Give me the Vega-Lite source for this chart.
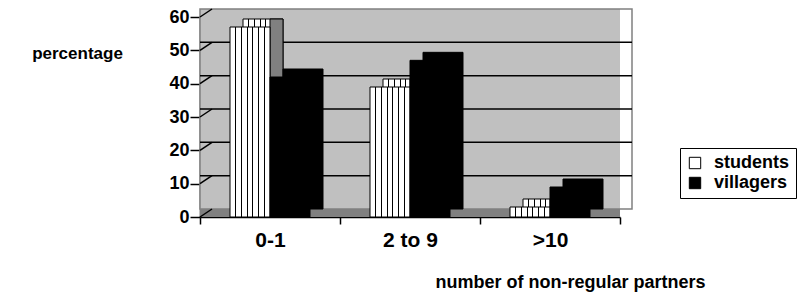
{
  "$schema": "https://vega.github.io/schema/vega-lite/v6.json",
  "width": 420,
  "height": 200,
  "autosize": "none",
  "padding": {"left": 200, "top": 17, "right": 189, "bottom": 82},
  "background": "white",
  "config": {
    "view": {"stroke": null},
    "font": "Liberation Sans",
    "axisY": {"domainColor": "black", "domainWidth": 1.5, "tickColor": "black", "tickWidth": 1.5, "tickSize": 10, "labelFontSize": 18, "labelFontWeight": "bold", "labelColor": "black", "labelPadding": 1, "grid": false, "titleAngle": 0, "titleX": -123, "titleY": 36, "titleFontSize": 17, "titleFontWeight": "bold", "titleAlign": "center", "titleBaseline": "middle", "titleColor": "black"},
    "axisX": {"domainColor": "black", "domainWidth": 1.5, "tickColor": "black", "tickWidth": 1.5, "tickSize": 7, "tickBand": "extent", "labelFontSize": 21, "labelFontWeight": "bold", "labelColor": "black", "labelPadding": 5, "labelAngle": 0, "grid": false, "titleFontSize": 18, "titleFontWeight": "bold", "titleColor": "black", "titleX": 370, "titleY": 70, "titleBaseline": "alphabetic", "titleAlign": "center"}
  },
  "data": {"values": [
    {"category": "0-1", "series": "students", "value": 57},
    {"category": "0-1", "series": "villagers", "value": 42},
    {"category": "2 to 9", "series": "students", "value": 39},
    {"category": "2 to 9", "series": "villagers", "value": 47},
    {"category": ">10", "series": "students", "value": 3},
    {"category": ">10", "series": "villagers", "value": 9}
  ]},
  "layer": [
    {
      "data": {"values": [{"value": 60, "v0": 0}]},
      "mark": {"type": "rect", "fill": "#c0c0c0", "yOffset": -8, "x2Offset": 12},
      "encoding": {
        "y": {"field": "value", "type": "quantitative", "scale": {"domain": [0, 60]}, "title": "percentage"},
        "y2": {"field": "v0"}
      }
    },
    {
      "data": {"values": [{"value": 60, "v0": 0}]},
      "mark": {"type": "rect", "fill": null, "stroke": "#808080", "strokeWidth": 1.5, "xOffset": 12, "x2Offset": 12, "yOffset": -8, "y2Offset": -8},
      "encoding": {
        "y": {"field": "value", "type": "quantitative"},
        "y2": {"field": "v0"}
      }
    },
    {
      "data": {"values": [{"value": 0, "v0": 0}]},
      "mark": {"type": "rect", "fill": "#808080", "y2Offset": -8, "x2Offset": 12},
      "encoding": {
        "y": {"field": "value", "type": "quantitative"},
        "y2": {"field": "v0"}
      }
    },
    {
      "data": {"values": [{"value": 10}, {"value": 20}, {"value": 30}, {"value": 40}, {"value": 50}]},
      "mark": {"type": "rule", "color": "black", "strokeWidth": 1.5, "xOffset": 12, "x2Offset": 12, "yOffset": -8},
      "encoding": {
        "y": {"field": "value", "type": "quantitative"}
      }
    },
    {
      "data": {"values": [{"value": 0}, {"value": 10}, {"value": 20}, {"value": 30}, {"value": 40}, {"value": 50}, {"value": 60}]},
      "mark": {"type": "rule", "color": "black", "strokeWidth": 1.5, "x2Offset": 12, "y2Offset": -8},
      "encoding": {
        "x": {"datum": "0-1", "bandPosition": 0, "type": "nominal"},
        "x2": {"datum": "0-1", "bandPosition": 0},
        "y": {"field": "value", "type": "quantitative"},
        "y2": {"field": "value"}
      }
    },
    {
      "transform": [{"filter": "datum.series === 'students'"}],
      "mark": {"type": "bar", "width": 40, "xOffset": -7, "yOffset": -8, "y2Offset": -8, "stroke": "black", "strokeWidth": 1,
        "fill": {"gradient": "linear", "x1": 0, "y1": 0, "x2": 1, "y2": 0, "stops": [
          {"offset": 0, "color": "#ffffff"},
          {"offset": 0.13, "color": "#ffffff"}, {"offset": 0.13, "color": "#000000"}, {"offset": 0.155, "color": "#000000"}, {"offset": 0.155, "color": "#ffffff"},
          {"offset": 0.273, "color": "#ffffff"}, {"offset": 0.273, "color": "#000000"}, {"offset": 0.298, "color": "#000000"}, {"offset": 0.298, "color": "#ffffff"},
          {"offset": 0.416, "color": "#ffffff"}, {"offset": 0.416, "color": "#000000"}, {"offset": 0.441, "color": "#000000"}, {"offset": 0.441, "color": "#ffffff"},
          {"offset": 0.559, "color": "#ffffff"}, {"offset": 0.559, "color": "#000000"}, {"offset": 0.584, "color": "#000000"}, {"offset": 0.584, "color": "#ffffff"},
          {"offset": 0.702, "color": "#ffffff"}, {"offset": 0.702, "color": "#000000"}, {"offset": 0.727, "color": "#000000"}, {"offset": 0.727, "color": "#ffffff"},
          {"offset": 0.845, "color": "#ffffff"}, {"offset": 0.845, "color": "#000000"}, {"offset": 0.870, "color": "#000000"}, {"offset": 0.870, "color": "#ffffff"},
          {"offset": 1, "color": "#ffffff"}]}},
      "encoding": {
        "x": {"field": "category", "type": "nominal", "scale": {"domain": ["0-1", "2 to 9", ">10"], "paddingInner": 0, "paddingOuter": 0}, "title": "number of non-regular partners"},
        "y": {"field": "value", "type": "quantitative"}
      }
    },
    {
      "transform": [{"filter": "datum.series === 'students'"}],
      "mark": {"type": "bar", "width": 13, "xOffset": 6.5, "yOffset": -8, "y2Offset": -4, "fill": "#808080", "stroke": "black", "strokeWidth": 1},
      "encoding": {
        "x": {"field": "category", "type": "nominal"},
        "y": {"field": "value", "type": "quantitative"}
      }
    },
    {
      "transform": [{"filter": "datum.series === 'students'"}],
      "mark": {"type": "bar", "width": 40, "xOffset": -20, "stroke": "black", "strokeWidth": 1,
        "fill": {"gradient": "linear", "x1": 0, "y1": 0, "x2": 1, "y2": 0, "stops": [
          {"offset": 0, "color": "#ffffff"},
          {"offset": 0.13, "color": "#ffffff"}, {"offset": 0.13, "color": "#000000"}, {"offset": 0.155, "color": "#000000"}, {"offset": 0.155, "color": "#ffffff"},
          {"offset": 0.273, "color": "#ffffff"}, {"offset": 0.273, "color": "#000000"}, {"offset": 0.298, "color": "#000000"}, {"offset": 0.298, "color": "#ffffff"},
          {"offset": 0.416, "color": "#ffffff"}, {"offset": 0.416, "color": "#000000"}, {"offset": 0.441, "color": "#000000"}, {"offset": 0.441, "color": "#ffffff"},
          {"offset": 0.559, "color": "#ffffff"}, {"offset": 0.559, "color": "#000000"}, {"offset": 0.584, "color": "#000000"}, {"offset": 0.584, "color": "#ffffff"},
          {"offset": 0.702, "color": "#ffffff"}, {"offset": 0.702, "color": "#000000"}, {"offset": 0.727, "color": "#000000"}, {"offset": 0.727, "color": "#ffffff"},
          {"offset": 0.845, "color": "#ffffff"}, {"offset": 0.845, "color": "#000000"}, {"offset": 0.870, "color": "#000000"}, {"offset": 0.870, "color": "#ffffff"},
          {"offset": 1, "color": "#ffffff"}]}},
      "encoding": {
        "x": {"field": "category", "type": "nominal"},
        "y": {"field": "value", "type": "quantitative"}
      }
    },
    {
      "transform": [{"filter": "datum.series === 'villagers'"}],
      "mark": {"type": "bar", "width": 40, "xOffset": 33, "yOffset": -8, "y2Offset": -8, "fill": "#000000", "stroke": "black", "strokeWidth": 1},
      "encoding": {
        "x": {"field": "category", "type": "nominal"},
        "y": {"field": "value", "type": "quantitative"}
      }
    },
    {
      "transform": [{"filter": "datum.series === 'villagers'"}],
      "mark": {"type": "bar", "width": 40, "xOffset": 20, "stroke": "black", "strokeWidth": 1},
      "encoding": {
        "x": {"field": "category", "type": "nominal"},
        "y": {"field": "value", "type": "quantitative"},
        "fill": {"field": "series", "type": "nominal",
          "scale": {"domain": ["students", "villagers"], "range": ["#ffffff", "#000000"]},
          "legend": {"orient": "none", "legendX": 480, "legendY": 131, "title": null, "symbolType": "square", "symbolSize": 130, "symbolStrokeColor": "black", "symbolStrokeWidth": 1, "labelFontSize": 18, "labelFontWeight": "bold", "labelColor": "black", "strokeColor": "black", "fillColor": "white", "padding": 6, "rowPadding": 2, "labelOffset": 10}}
      }
    }
  ]
}
